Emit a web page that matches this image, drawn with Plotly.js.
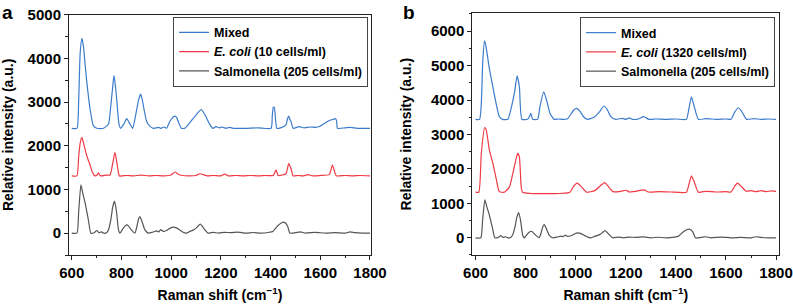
<!DOCTYPE html>
<html>
<head>
<meta charset="utf-8">
<script src="https://cdn.plot.ly/plotly-3.0.1.min.js"></script>
<style>html,body{margin:0;padding:0;background:#fff;}#chart{width:793px;height:306px;}</style>
</head>
<body>
<div id="chart"></div>
<script>
// ---- Panel a data: [Raman shift (cm-1), intensity (a.u.)] ----
const mixedA = [[600,2400],[621,2400],[628,3060],[634,4130],[641,4460],[647,4280],[654,3850],[661,3440],[674,2830],[687,2460],[701,2400],[728,2400],[748,2500],[757,2905],[764,3300],[770,3610],[776,3350],[781,3058],[790,2500],[797,2400],[810,2500],[821,2620],[834,2500],[845,2400],[861,2820],[869,3050],[877,3180],[884,3050],[891,2830],[901,2560],[914,2450],[928,2400],[950,2420],[958,2400],[970,2430],[981,2400],[995,2560],[1008,2660],[1015,2680],[1022,2650],[1028,2560],[1041,2400],[1055,2400],[1068,2480],[1088,2620],[1108,2760],[1121,2830],[1135,2720],[1155,2490],[1168,2400],[1180,2440],[1195,2410],[1205,2430],[1220,2400],[1235,2420],[1250,2400],[1300,2400],[1350,2410],[1402,2400],[1407,2700],[1411,2880],[1415,2880],[1420,2600],[1425,2400],[1440,2410],[1462,2480],[1468,2620],[1473,2680],[1478,2600],[1482,2560],[1491,2400],[1515,2440],[1535,2410],[1560,2430],[1582,2420],[1596,2440],[1616,2510],[1636,2580],[1649,2600],[1662,2620],[1666,2560],[1669,2400],[1700,2410],[1720,2420],[1750,2400],[1800,2400]];
const ecoliA = [[600,1310],[621,1310],[628,1760],[634,2060],[641,2190],[650,2000],[661,1760],[674,1560],[684,1380],[694,1310],[702,1330],[708,1380],[714,1320],[721,1310],[740,1330],[754,1330],[765,1600],[774,1850],[784,1520],[792,1310],[820,1320],[850,1310],[880,1330],[910,1310],[940,1320],[970,1310],[1000,1330],[1015,1400],[1028,1350],[1045,1320],[1070,1310],[1100,1320],[1115,1360],[1130,1340],[1145,1310],[1170,1320],[1200,1310],[1215,1350],[1230,1310],[1260,1320],[1290,1310],[1320,1320],[1350,1310],[1380,1320],[1411,1320],[1422,1450],[1430,1320],[1445,1330],[1462,1360],[1473,1590],[1482,1480],[1491,1310],[1510,1320],[1530,1310],[1550,1340],[1570,1310],[1600,1320],[1636,1340],[1649,1560],[1659,1380],[1665,1310],[1700,1320],[1730,1310],[1760,1320],[1800,1310]];
const salmonella = [[600,0],[621,0],[628,500],[637,1105],[645,900],[654,690],[667,300],[677,0],[690,10],[701,60],[710,10],[720,30],[728,0],[740,10],[748,80],[757,300],[765,600],[772,735],[780,500],[788,80],[794,0],[806,100],[814,160],[824,190],[834,120],[841,70],[854,0],[862,150],[869,330],[874,380],[882,280],[894,80],[908,0],[925,20],[941,50],[950,30],[958,80],[968,40],[981,60],[995,110],[1008,140],[1021,120],[1035,70],[1048,20],[1061,0],[1075,40],[1088,70],[1100,110],[1108,160],[1117,210],[1125,160],[1135,80],[1148,0],[1170,20],[1190,0],[1215,20],[1240,10],[1270,25],[1300,0],[1330,15],[1360,0],[1395,20],[1409,40],[1420,110],[1429,170],[1445,240],[1453,252],[1462,220],[1469,150],[1478,0],[1500,10],[1520,30],[1540,0],[1580,20],[1620,0],[1660,10],[1700,0],[1720,30],[1740,10],[1770,0],[1800,0]];
// ---- Panel b data ----
const mixedB = [[600,3440],[616,3440],[623,3905],[629,5160],[636,5720],[642,5546],[655,4920],[669,4386],[682,3905],[695,3517],[708,3440],[729,3440],[742,3760],[756,4241],[766,4705],[775,4386],[785,3441],[808,3440],[815,3520],[821,3615],[828,3440],[848,3440],[857,3800],[872,4241],[884,3990],[897,3620],[914,3440],[930,3450],[950,3440],[967,3460],[980,3580],[993,3720],[1004,3760],[1016,3680],[1033,3500],[1047,3440],[1073,3500],[1093,3640],[1113,3827],[1126,3720],[1140,3520],[1160,3440],[1187,3470],[1200,3440],[1215,3480],[1227,3440],[1250,3450],[1271,3517],[1293,3440],[1320,3450],[1360,3440],[1400,3450],[1442,3440],[1452,3750],[1462,4096],[1472,3850],[1490,3440],[1520,3460],[1560,3440],[1600,3450],[1620,3440],[1635,3650],[1649,3777],[1662,3680],[1682,3440],[1710,3460],[1740,3440],[1770,3450],[1800,3440]];
const ecoliB = [[600,1324],[613,1324],[623,2455],[636,3197],[642,3150],[655,2551],[669,2165],[682,1731],[695,1340],[715,1324],[735,1470],[749,1876],[762,2300],[768,2455],[775,2350],[782,1500],[788,1324],[977,1324],[990,1480],[1006,1586],[1023,1480],[1043,1324],[1076,1370],[1103,1540],[1116,1604],[1129,1500],[1149,1340],[1180,1350],[1200,1380],[1215,1330],[1240,1350],[1273,1390],[1290,1330],[1330,1340],[1380,1330],[1442,1324],[1452,1550],[1462,1797],[1472,1650],[1490,1324],[1520,1350],[1560,1330],[1600,1340],[1620,1330],[1635,1500],[1646,1586],[1660,1500],[1682,1350],[1700,1370],[1720,1340],[1740,1370],[1760,1340],[1780,1360],[1800,1350]];

const seriesNamesA = ['Mixed', '<i>E. coli</i> (10 cells/ml)', 'Salmonella (205 cells/ml)'];
const seriesNamesB = ['Mixed', '<i>E. coli</i> (1320 cells/ml)', 'Salmonella (205 cells/ml)'];
const colors = ['#3b7bcb', '#f03a44', '#555555'];

function tr(data, name, color, xa, ya, leg) {
  return {x: data.map(p => p[0]), y: data.map(p => p[1]), name: name, type: 'scatter', mode: 'lines',
    line: {color: color, width: 1.2, shape: 'spline', smoothing: 0.5}, xaxis: xa, yaxis: ya, legend: leg};
}
const traces = [
  tr(mixedA, seriesNamesA[0], colors[0], 'x', 'y', 'legend'),
  tr(ecoliA, seriesNamesA[1], colors[1], 'x', 'y', 'legend'),
  tr(salmonella, seriesNamesA[2], colors[2], 'x', 'y', 'legend'),
  tr(mixedB, seriesNamesB[0], colors[0], 'x2', 'y2', 'legend2'),
  tr(ecoliB, seriesNamesB[1], colors[1], 'x2', 'y2', 'legend2'),
  tr(salmonella, seriesNamesB[2], colors[2], 'x2', 'y2', 'legend2')
];

const FONT = 'Liberation Sans, Arial, Helvetica, sans-serif';
const tickFont = {family: FONT, size: 15, color: '#000', weight: 'bold'};
const titleFont = {family: FONT, size: 14, color: '#000', weight: 'bold'};
function xax(domain, range) {
  return {domain: domain, range: range, showline: true, mirror: true, linecolor: '#222', linewidth: 1,
    ticks: 'outside', ticklen: 4, tickcolor: '#222', tickwidth: 1, dtick: 200, tick0: 0,
    minor: {dtick: 100, ticks: 'outside', ticklen: 2.5, tickcolor: '#222'},
    showgrid: false, zeroline: false, tickfont: tickFont, automargin: false,
    title: {text: 'Raman shift (cm<sup>\u22121</sup>)', font: titleFont, standoff: 10}};
}
function yax(domain, range, anchor) {
  return {domain: domain, range: range, anchor: anchor, showline: true, mirror: true, linecolor: '#222', linewidth: 1,
    ticks: 'outside', ticklen: 4, tickcolor: '#222', tickwidth: 1, dtick: 1000, tick0: 0,
    minor: {dtick: 500, ticks: 'outside', ticklen: 2.5, tickcolor: '#222'},
    showgrid: false, zeroline: false, tickfont: tickFont, automargin: false,
    title: {text: 'Relative intensity (a.u.)', font: titleFont, standoff: 16}};
}
const legendStyle = {bgcolor: '#fff', bordercolor: '#444', borderwidth: 1, xanchor: 'right', yanchor: 'top',
  font: {family: FONT, size: 12.5, color: '#000', weight: 'bold'}, itemwidth: 30, tracegroupgap: 0};

const layout = {
  width: 793, height: 306, margin: {l: 0, r: 0, t: 0, b: 0},
  paper_bgcolor: '#fff', plot_bgcolor: '#fff', showlegend: true,
  xaxis: Object.assign(xax([0.08701, 0.46784], [589, 1804]), {anchor: 'y'}),
  yaxis: yax([0.16667, 0.95196], [-500, 5000], 'x'),
  xaxis2: Object.assign(xax([0.59559, 0.98272], [587, 1813]), {anchor: 'y2'}),
  yaxis2: yax([0.16667, 0.95654], [-500, 6520], 'x2'),
  legend: Object.assign({}, legendStyle, {x: 0.4641, y: 0.9454}),
  legend2: Object.assign({}, legendStyle, {x: 0.9773, y: 0.9444}),
  annotations: [
    {text: 'a', xref: 'paper', yref: 'paper', x: 0.0, y: 1.0, xanchor: 'left', yanchor: 'top', showarrow: false,
      font: {family: FONT, size: 19, color: '#000', weight: 'bold'}},
    {text: 'b', xref: 'paper', yref: 'paper', x: 0.5057, y: 1.0, xanchor: 'left', yanchor: 'top', showarrow: false,
      font: {family: FONT, size: 19, color: '#000', weight: 'bold'}}
  ]
};
Plotly.newPlot('chart', traces, layout, {displayModeBar: false, staticPlot: true});
</script>
</body>
</html>
